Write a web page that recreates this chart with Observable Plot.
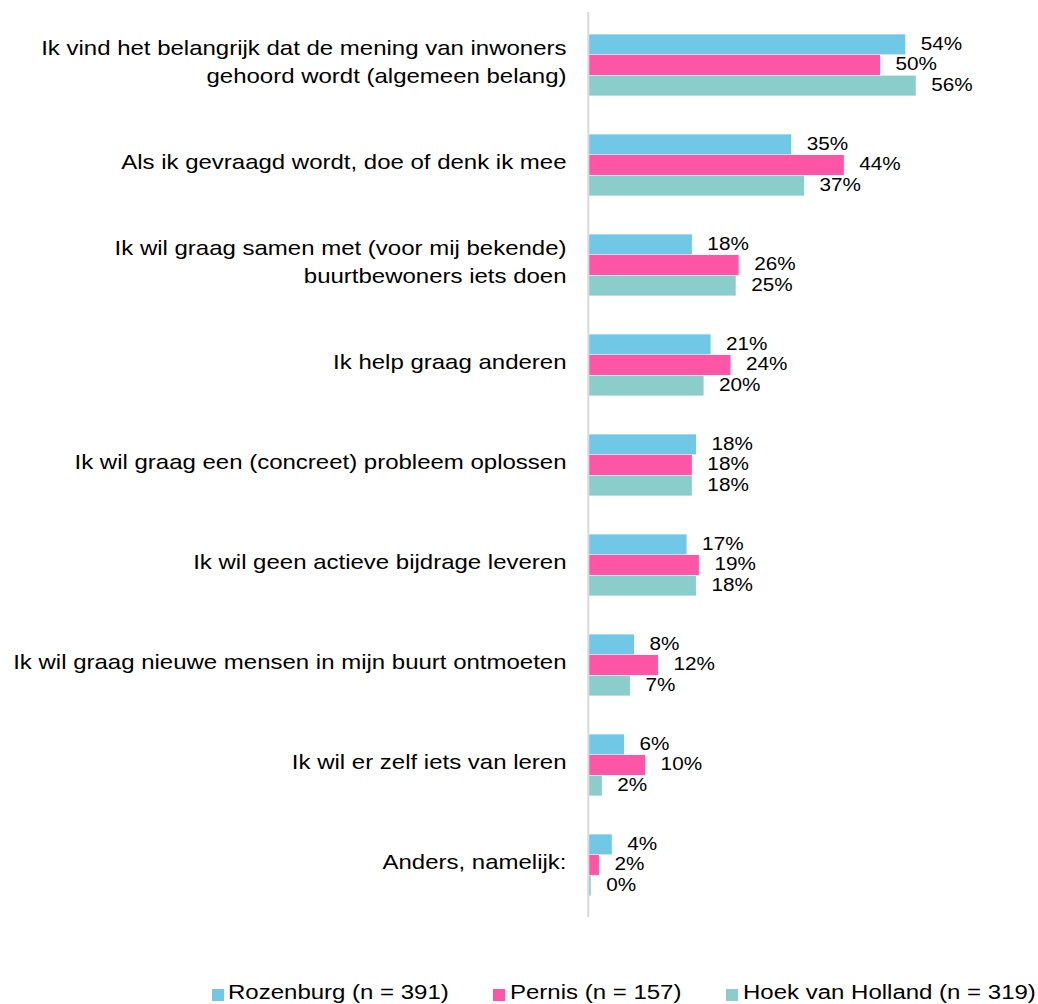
<!DOCTYPE html>
<html><head><meta charset="utf-8">
<script src="https://cdn.jsdelivr.net/npm/d3@7"></script>
<script src="https://cdn.jsdelivr.net/npm/@observablehq/plot@0.6"></script>
<style>
html,body{margin:0;padding:0;background:#fff;}
#wrap{position:relative;width:1038px;height:1004px;overflow:hidden;font-family:"Liberation Sans",Arial,sans-serif;}
#chart svg{display:block;}
.leg{position:absolute;top:982px;height:21px;font-size:20px;line-height:21px;color:#000;white-space:nowrap;}
.leg .sw{position:absolute;top:6.5px;left:0;width:12px;height:12px;}
.leg .tx{position:absolute;left:16.5px;top:0;transform:scaleX(1.2);transform-origin:0 0;}
</style></head>
<body><div id="wrap"><div id="chart"></div><div id="legend"></div></div>
<script>
const categories = [
  "Ik vind het belangrijk dat de mening van inwoners\ngehoord wordt (algemeen belang)",
  "Als ik gevraagd wordt, doe of denk ik mee",
  "Ik wil graag samen met (voor mij bekende)\nbuurtbewoners iets doen",
  "Ik help graag anderen",
  "Ik wil graag een (concreet) probleem oplossen",
  "Ik wil geen actieve bijdrage leveren",
  "Ik wil graag nieuwe mensen in mijn buurt ontmoeten",
  "Ik wil er zelf iets van leren",
  "Anders, namelijk:"
];
const seriesNames = ["Rozenburg (n = 391)", "Pernis (n = 157)", "Hoek van Holland (n = 319)"];
const seriesColors = ["#70C7E6", "#FF55A6", "#8BCDCB"];
const rozenburg      = [54.1, 34.6, 17.6, 20.8, 18.3, 16.7, 7.7, 6.0, 3.9];
const pernis         = [49.8, 43.6, 25.6, 24.2, 17.6, 18.8, 11.8, 9.6, 1.7];
const hoekVanHolland = [55.9, 36.8, 25.1, 19.6, 17.6, 18.3, 7.0, 2.2, 0.3];
const seriesValues = [rozenburg, pernis, hoekVanHolland];

const W = 1038, H = 975, mT = 12, mB = 58, mL = 589, mR = 98.3;
const step = (H - mT - mB) / categories.length;
const barH = 20.6;
const labelStretch = 1.2, valueStretch = 1.12;

const rows = categories.flatMap((c, i) =>
  seriesNames.map((s, j) => ({cat: c, series: s, value: seriesValues[j][i]})));

const fmt = d3.format(".0f");

const plot = Plot.plot({
  width: W, height: H,
  marginTop: mT, marginBottom: mB, marginLeft: mL, marginRight: mR,
  style: {fontFamily: "'Liberation Sans', Arial, sans-serif", background: "white", color: "#000"},
  x: {domain: [0, 60], axis: null},
  y: {domain: categories, padding: 0, axis: null},
  marks: [
    ...seriesNames.map((s, j) => {
      const off = (j - 1) * barH;
      return Plot.barX(rows.filter(r => r.series === s), {
        x: "value", y: "cat", fill: seriesColors[j],
        insetTop: step / 2 - barH / 2 + off,
        insetBottom: step / 2 - barH / 2 - off
      });
    }),
    Plot.ruleX([0], {stroke: "#d9d9d9", strokeWidth: 2, dx: -1.2}),
    ...seriesNames.map((s, j) => Plot.text(rows.filter(r => r.series === s), {
      x: "value", y: "cat", text: d => fmt(d.value) + "%",
      textAnchor: "start", dx: 15, dy: (j - 1) * barH - 1,
      fontSize: 18.5, fill: "#000"
    })),
    Plot.text(categories, {
      y: d => d, frameAnchor: "left", text: d => d,
      textAnchor: "end", dx: -23, dy: -5, lineAnchor: "middle", lineHeight: 1.4,
      fontSize: 20, fill: "#000"
    })
  ]
});

// horizontal stretch of glyphs (source text is slightly widened)
plot.querySelectorAll("text").forEach(t => {
  const isValue = /%$/.test(t.textContent);
  const s = isValue ? valueStretch : labelStretch;
  const tr = t.getAttribute("transform");
  if (tr) {
    t.setAttribute("transform", tr + ` scale(${s},1)`);
  } else {
    const x = +t.getAttribute("x") || 0, y = +t.getAttribute("y") || 0;
    t.removeAttribute("x"); t.removeAttribute("y");
    t.setAttribute("transform", `translate(${x},${y}) scale(${s},1)`);
  }
});

document.getElementById("chart").appendChild(plot);

const legendLefts = [211.7, 493.3, 726.3];
const legend = document.getElementById("legend");
seriesNames.forEach((s, j) => {
  const item = document.createElement("div");
  item.className = "leg";
  item.style.left = legendLefts[j] + "px";
  const sw = document.createElement("span");
  sw.className = "sw"; sw.style.background = seriesColors[j];
  const tx = document.createElement("span");
  tx.className = "tx"; tx.textContent = s;
  item.appendChild(sw); item.appendChild(tx);
  legend.appendChild(item);
});
</script>
</body></html>
